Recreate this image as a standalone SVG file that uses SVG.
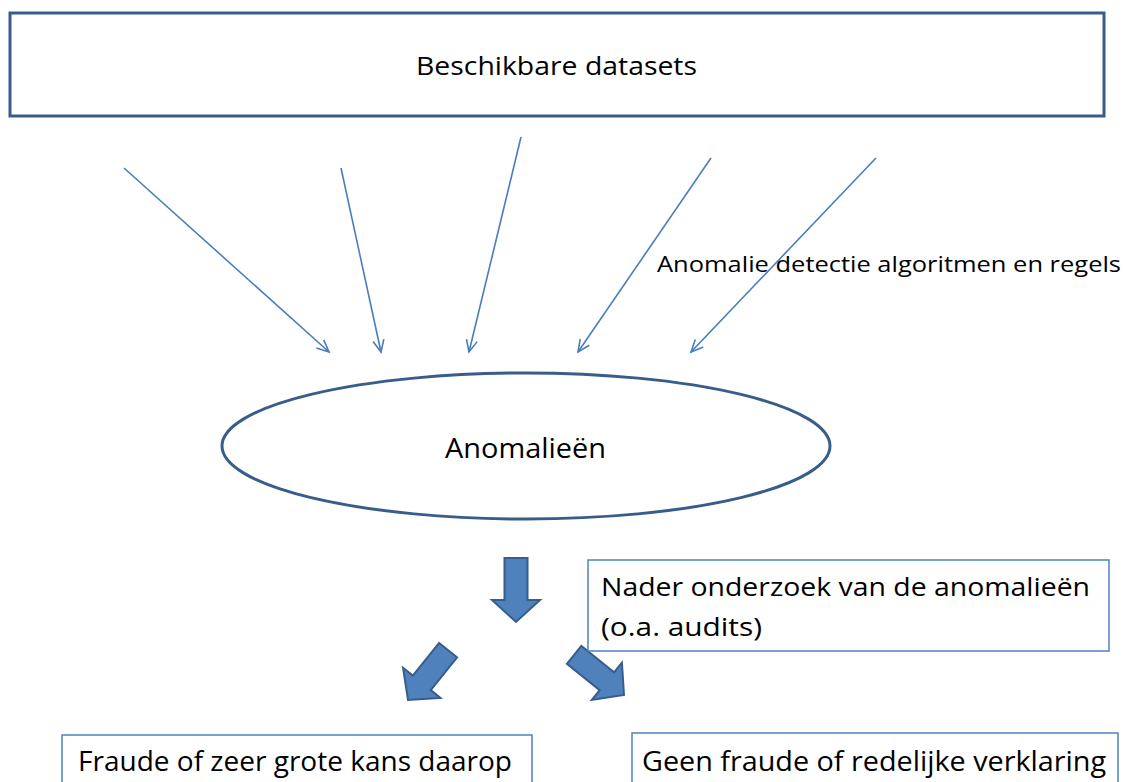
<svg xmlns="http://www.w3.org/2000/svg" width="1126" height="782" viewBox="0 0 1126 782">
  <style>
    .t { font-family: "Open Sans", "Liberation Sans", sans-serif; fill: #000000; }
    .thin { stroke: #4a7ebb; stroke-width: 1.6; fill: none; }
    .block { fill: #4f81bd; stroke: #385d8a; stroke-width: 2; stroke-linejoin: miter; }
    .box { fill: #ffffff; stroke: #4f81bd; stroke-width: 1.5; }
  </style>
  <defs>
    <marker id="open" markerUnits="userSpaceOnUse" markerWidth="16" markerHeight="14" refX="13" refY="7" orient="auto">
      <path d="M1,1.5 L13,7 L1,12.5" fill="none" stroke="#4a7ebb" stroke-width="1.6"/>
    </marker>
    <path id="blockArrow" d="M -11.5 -64 L 11.5 -64 L 11.5 -22 L 24 -22 L 0 0 L -24 -22 L -11.5 -22 Z"/>
  </defs>
  <rect width="1126" height="782" fill="#ffffff"/>

  <g id="datasets">
    <rect x="10" y="13" width="1094" height="103" fill="#ffffff" stroke="#385d8a" stroke-width="3"/>
    <text class="t" x="416" y="75" font-size="26" textLength="281" lengthAdjust="spacingAndGlyphs">Beschikbare datasets</text>
  </g>

  <g id="connectors">
    <line class="thin" x1="124" y1="168" x2="329" y2="352" marker-end="url(#open)"/>
    <line class="thin" x1="341" y1="168" x2="381" y2="352" marker-end="url(#open)"/>
    <line class="thin" x1="521" y1="137" x2="469" y2="352" marker-end="url(#open)"/>
    <line class="thin" x1="711" y1="158" x2="578" y2="352" marker-end="url(#open)"/>
    <line class="thin" x1="876" y1="158" x2="691" y2="352" marker-end="url(#open)"/>
    <use href="#blockArrow" class="block" transform="translate(516,622)"/>
    <use href="#blockArrow" class="block" transform="translate(408,700) rotate(38.8)"/>
    <use href="#blockArrow" class="block" transform="translate(624,695) rotate(-51.2)"/>
  </g>

  <g id="label-algoritmen">
    <text class="t" x="657" y="272" font-size="21" textLength="464" lengthAdjust="spacingAndGlyphs">Anomalie detectie algoritmen en regels</text>
  </g>

  <g id="anomalieen">
    <ellipse cx="526" cy="446" rx="304" ry="73" fill="#ffffff" stroke="#385d8a" stroke-width="3"/>
    <text class="t" x="445" y="458" font-size="28" textLength="161" lengthAdjust="spacingAndGlyphs">Anomalieën</text>
  </g>

  <g id="nader-onderzoek">
    <rect class="box" x="588" y="560" width="521" height="91"/>
    <text class="t" x="601" y="596" font-size="26" textLength="489" lengthAdjust="spacingAndGlyphs">Nader onderzoek van de anomalieën</text>
    <text class="t" x="601" y="636" font-size="26" textLength="161" lengthAdjust="spacingAndGlyphs">(o.a. audits)</text>
  </g>

  <g id="fraude">
    <rect class="box" x="62" y="735" width="470" height="70"/>
    <text class="t" x="78" y="771" font-size="27" textLength="434" lengthAdjust="spacingAndGlyphs">Fraude of zeer grote kans daarop</text>
  </g>

  <g id="geen-fraude">
    <rect class="box" x="632" y="733" width="486" height="72"/>
    <text class="t" x="642" y="771" font-size="27" textLength="464" lengthAdjust="spacingAndGlyphs">Geen fraude of redelijke verklaring</text>
  </g>
</svg>
